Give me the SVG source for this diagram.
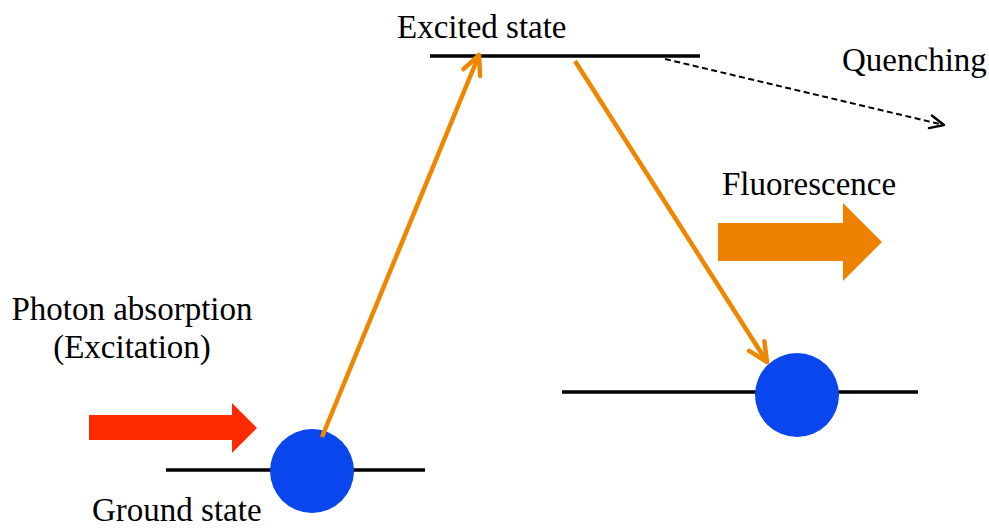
<svg xmlns="http://www.w3.org/2000/svg" width="989" height="528" viewBox="0 0 989 528">
  <style>
    text { font-family: "Liberation Serif", "Times New Roman", serif; font-size: 33px; fill: #000; }
    .level { stroke: #000; stroke-width: 3.5; fill: none; }
    .electron { fill: #0A46EE; }
    .transition { stroke: #EE8600; stroke-width: 4.5; fill: none; }
    .quench { stroke: #000; stroke-width: 2; stroke-dasharray: 6 3.5; fill: none; }
  </style>
  <defs>
    <marker id="orangeHead" markerUnits="userSpaceOnUse" viewBox="-24 -12 28 24" refX="0" refY="0" markerWidth="28" markerHeight="24" orient="auto" overflow="visible">
      <path d="M -19,-9 L 0,0 L -19,9" fill="none" stroke="#EE8600" stroke-width="4.5" stroke-linecap="round" stroke-linejoin="round"/>
    </marker>
    <marker id="blackHead" markerUnits="userSpaceOnUse" viewBox="-16 -8 20 16" refX="0" refY="0" markerWidth="20" markerHeight="16" orient="auto" overflow="visible">
      <path d="M -14,-6.5 L 0,0 L -14,6.5" fill="none" stroke="#000" stroke-width="2.4" stroke-linecap="round" stroke-linejoin="round"/>
    </marker>
  </defs>

  <!-- energy levels with their labels -->
  <g id="excited-state">
    <line class="level" x1="430" y1="56" x2="700" y2="56"/>
    <text x="397" y="38">Excited state</text>
  </g>
  <g id="ground-state">
    <line class="level" x1="166" y1="470" x2="425" y2="470"/>
    <circle class="electron" cx="312" cy="471" r="42"/>
    <text x="92" y="521">Ground state</text>
  </g>
  <g id="relaxed-state">
    <line class="level" x1="562" y1="392" x2="918" y2="392"/>
    <circle class="electron" cx="797" cy="395" r="42"/>
  </g>

  <!-- incoming photon -->
  <g id="photon-absorption">
    <text x="132" y="320" text-anchor="middle">Photon absorption</text>
    <text x="132" y="358" text-anchor="middle">(Excitation)</text>
    <polygon points="89,415 232,415 232,403 257,428 232,453 232,440 89,440" fill="#FF2A00"/>
  </g>

  <!-- emitted light -->
  <g id="fluorescence">
    <text x="722" y="195">Fluorescence</text>
    <polygon points="718,223 843,223 843,203 882,242 843,281 843,261 718,261" fill="#EE8200"/>
  </g>

  <g id="quenching">
    <text x="842" y="71">Quenching</text>
  </g>

  <!-- transitions between levels -->
  <g id="connectors">
    <line class="transition" x1="322" y1="437" x2="479" y2="55" marker-end="url(#orangeHead)"/>
    <line class="transition" x1="575" y1="61" x2="767" y2="362" marker-end="url(#orangeHead)"/>
    <line class="quench" x1="665" y1="59" x2="944" y2="125" marker-end="url(#blackHead)"/>
  </g>
</svg>
